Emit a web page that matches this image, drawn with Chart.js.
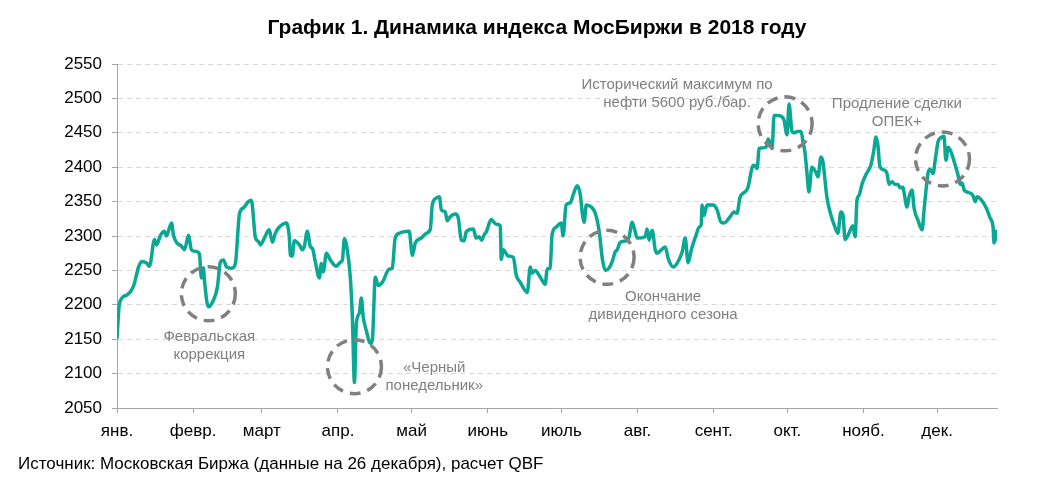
<!DOCTYPE html>
<html lang="ru">
<head>
<meta charset="utf-8">
<title>График 1. Динамика индекса МосБиржи в 2018 году</title>
<script src="https://cdn.jsdelivr.net/npm/chart.js@4.4.1/dist/chart.umd.min.js"></script>
<style>
  html, body { margin: 0; padding: 0; background: #fff; }
  #wrap { position: relative; width: 1052px; height: 488px; }
</style>
</head>
<body>
<div id="wrap"><canvas id="chart"></canvas></div>
<script>
/* global Chart */

// Month ticks (day of year, 1 Jan = 0)
const monthLabels = ['янв.', 'февр.', 'март', 'апр.', 'май', 'июнь', 'июль', 'авг.', 'сент.', 'окт.', 'нояб.', 'дек.'];
const monthStarts = [0, 31, 59, 90, 120, 151, 181, 212, 243, 273, 304, 334];

// MOEX index: day of year / index value
const days = [
    0, 1.0, 3.9, 6.7, 8.8, 10.0, 12.0, 13.2, 15.3, 16.1, 17.7, 19.3, 20.1, 22.2, 23.0, 24.2, 26.3, 27.5, 29.1, 30.3,
    32.8, 33.6, 34.4, 35.2, 35.6, 37.2, 39.3, 40.9, 42.1, 43.4, 44.6, 46.6, 48.2, 49.9, 51.5, 53.5, 54.7, 56.4, 57.6, 58.4,
    60.0, 62.0, 63.3, 64.5, 66.1, 69.0, 70.2, 70.6, 71.4, 72.2, 74.3, 75.5, 76.3, 77.5, 78.8, 79.6, 80.8, 82.4, 83.2, 84.0, 85.3, 86.9, 89.3,
    91.0, 91.8, 92.6, 93.4, 95.1, 95.9, 96.7, 97.5, 98.7, 99.5, 100.3, 101.5, 103.2, 104.0, 105.2, 106.4, 108.1, 110.9, 112.1, 113.3, 115.0, 116.6, 119.0,
    120.3, 121.5, 123.9, 126.0, 127.6, 128.4, 130.0, 131.3, 132.1, 133.7, 134.5, 135.7, 137.8, 139.0, 140.2, 141.4, 142.2, 145.1, 146.3, 147.5, 148.4, 149.6, 150.4,
    152.4, 154.5, 156.1, 156.5, 157.3, 159.3, 161.4, 162.6, 164.2, 167.1, 168.3, 169.1, 170.3, 172.4, 174.4, 175.2, 176.4, 177.2, 178.9, 180.9,
    181.7, 182.9, 184.6, 185.8, 187.4, 188.7, 189.5, 190.3, 191.1, 193.2, 194.8, 196.4, 197.7, 198.9, 200.5, 201.7, 202.9, 203.7, 205.0, 207.4, 208.6, 209.8, 210.7, 211.9,
    215.1, 215.9, 216.7, 217.6, 218.0, 219.2, 220.0, 222.0, 223.3, 224.5, 226.5, 228.2, 230.2, 231.4, 232.6, 233.9, 235.9, 237.1, 237.9, 238.3, 239.1, 240.3, 242.8,
    244.4, 246.0, 247.3, 249.7, 251.3, 252.5, 253.8, 255.8, 257.0, 258.7, 259.5, 260.7, 261.5, 262.3, 264.3, 265.2, 266.0, 266.8, 267.6, 269.2, 270.9, 271.7, 272.9,
    273.7, 274.9, 275.7, 277.3, 278.6, 279.4, 280.2, 281.0, 281.8, 283.0, 284.7, 285.5, 286.7, 287.5, 289.1, 290.4, 292.4, 293.6, 294.8, 295.7, 296.5, 297.7, 299.7, 300.6,
    301.4, 302.2, 303.4, 305.0, 307.1, 308.3, 309.1, 309.9, 310.7, 312.4, 313.6, 314.4, 315.6, 316.9, 318.1, 318.9, 320.1, 320.5, 321.8, 322.6, 323.8, 324.6, 326.2, 327.9, 328.7, 329.5, 330.3, 331.1, 332.4, 333.2,
    334.4, 335.6, 336.8, 337.6, 338.5, 339.7, 341.7, 342.5, 343.4, 344.2, 345.0, 346.2, 348.6, 349.5, 350.3, 351.9, 354.0, 355.6, 356.8, 357.2, 358.4
];
const indexValues = [
    2151, 2202, 2214, 2227, 2255, 2263, 2261, 2256, 2295, 2287, 2301, 2307, 2300, 2319, 2301, 2291, 2285, 2280, 2301, 2280,
    2277, 2273, 2239, 2254, 2236, 2197, 2207, 2226, 2262, 2265, 2255, 2253, 2260, 2333, 2341, 2350, 2352, 2297, 2292, 2287,
    2297, 2309, 2291, 2304, 2313, 2319, 2297, 2272, 2271, 2293, 2287, 2280, 2285, 2307, 2284, 2282, 2262, 2239, 2260, 2248, 2275, 2265, 2256,
    2262, 2265, 2296, 2288, 2236, 2178, 2087, 2173, 2188, 2210, 2182, 2163, 2144, 2149, 2240, 2228, 2233, 2252, 2253, 2297, 2304, 2306, 2307,
    2272, 2290, 2297, 2304, 2310, 2345, 2355, 2357, 2338, 2335, 2322, 2328, 2332, 2326, 2294, 2293, 2306, 2310, 2297, 2299, 2294, 2302, 2306,
    2324, 2317, 2315, 2266, 2280, 2271, 2269, 2243, 2233, 2218, 2255, 2246, 2250, 2240, 2230, 2252, 2253, 2302, 2313, 2319,
    2300, 2345, 2348, 2360, 2373, 2360, 2333, 2320, 2345, 2342, 2333, 2306, 2266, 2250, 2254, 2263, 2277, 2280, 2291, 2293, 2299, 2320, 2311, 2297,
    2299, 2310, 2294, 2306, 2308, 2280, 2275, 2281, 2284, 2267, 2255, 2261, 2277, 2297, 2261, 2280, 2302, 2313, 2316, 2345, 2330, 2345, 2345,
    2338, 2320, 2319, 2328, 2335, 2333, 2357, 2364, 2371, 2400, 2403, 2398, 2427, 2428, 2429, 2441, 2435, 2427, 2475, 2475, 2473, 2468, 2447,
    2492, 2452, 2450, 2452, 2452, 2437, 2421, 2392, 2364, 2400, 2392, 2386, 2415, 2408, 2357, 2335, 2313, 2304, 2335, 2330, 2295, 2301, 2315, 2299,
    2353, 2359, 2375, 2389, 2404, 2426, 2444, 2432, 2401, 2396, 2391, 2375, 2379, 2375, 2375, 2370, 2371, 2364, 2342, 2357, 2367, 2341, 2323, 2309, 2338, 2367, 2391, 2397, 2391, 2410,
    2437, 2443, 2445, 2410, 2429, 2422, 2399, 2389, 2375, 2377, 2367, 2364, 2359, 2350, 2357, 2353, 2341, 2326, 2313, 2290, 2309
];

const titleText = 'График 1. Динамика индекса МосБиржи в 2018 году';
const sourceText = 'Источник: Московская Биржа (данные на 26 декабря), расчет QBF';

const FONT = '"Liberation Sans", Arial, Helvetica, sans-serif';

// dashed circles and captions, anchored in data coordinates
const noteCircles = [
    { day: 37.2, value: 2216 },
    { day: 96.7, value: 2110 },
    { day: 199.6, value: 2269 },
    { day: 272.1, value: 2463 },
    { day: 336.2, value: 2412 }
];
const noteTexts = [
    { day: 37.6, value: 2153, lines: ['Февральская', 'коррекция'] },
    { day: 129.2, value: 2108, lines: ['«Черный', 'понедельник»'] },
    { day: 222.4, value: 2212, lines: ['Окончание', 'дивидендного сезона'] },
    { day: 228.1, value: 2519, lines: ['Исторический максимум по', 'нефти 5600 руб./бар.'] },
    { day: 317.6, value: 2492, lines: ['Продление сделки', 'ОПЕК+'] }
];

const notesPlugin = {
    id: 'notes',
    afterDatasetsDraw(chart) {
        const { ctx } = chart;
        const x = chart.scales.x;
        const y = chart.scales.y;
        ctx.save();
        ctx.strokeStyle = '#808080';
        ctx.lineWidth = 3.5;
        ctx.setLineDash([11, 7]);
        noteCircles.forEach(c => {
            ctx.beginPath();
            ctx.arc(x.getPixelForValue(c.day), y.getPixelForValue(c.value), 27, 0, Math.PI * 2);
            ctx.stroke();
        });
        ctx.setLineDash([]);
        ctx.fillStyle = '#7f7f7f';
        ctx.font = '15px ' + FONT;
        ctx.textAlign = 'center';
        ctx.textBaseline = 'middle';
        noteTexts.forEach(n => {
            const px = x.getPixelForValue(n.day);
            const py = y.getPixelForValue(n.value);
            n.lines.forEach((line, i) => ctx.fillText(line, px, py + i * 18));
        });
        ctx.restore();
    },
    afterDraw(chart) {
        const { ctx } = chart;
        ctx.save();
        ctx.fillStyle = '#000';
        ctx.textBaseline = 'middle';
        ctx.textAlign = 'center';
        ctx.font = 'bold 21px ' + FONT;
        ctx.fillText(titleText, 537, 28);
        ctx.textAlign = 'left';
        ctx.font = '17px ' + FONT;
        ctx.fillText(sourceText, 18, 464);
        ctx.restore();
    }
};

new Chart(document.getElementById('chart'), {
    type: 'line',
    data: {
        datasets: [{
            label: 'Индекс МосБиржи',
            data: days.map((d, i) => ({ x: d, y: indexValues[i] })),
            borderColor: '#0aa894',
            borderWidth: 3.5,
            pointRadius: 0,
            cubicInterpolationMode: 'monotone',
            fill: false
        }]
    },
    options: {
        responsive: true,
        maintainAspectRatio: false,
        animation: false,
        layout: { padding: { top: 64, right: 55, bottom: 0, left: 0 } },
        plugins: {
            legend: { display: false },
            tooltip: { enabled: false },
            title: { display: false }
        },
        scales: {
            x: {
                type: 'linear',
                min: 0,
                max: days[days.length - 1],
                afterBuildTicks: (scale) => {
                    scale.ticks = monthStarts.map(v => ({ value: v }));
                },
                afterFit: (scale) => { scale.height = 80; },
                ticks: {
                    autoSkip: false,
                    maxRotation: 0,
                    padding: 8,
                    color: '#000',
                    font: { family: FONT, size: 17 },
                    callback: (value, i) => monthLabels[i]
                },
                grid: {
                    drawOnChartArea: false,
                    tickLength: 5,
                    tickColor: '#a6a6a6'
                },
                border: { color: '#a6a6a6', width: 1 }
            },
            y: {
                min: 2050,
                max: 2550,
                afterFit: (scale) => { scale.width = 117; },
                ticks: {
                    stepSize: 50,
                    padding: 10,
                    color: '#000',
                    font: { family: FONT, size: 17 },
                    callback: (value) => String(value)
                },
                grid: {
                    color: '#d9d9d9',
                    tickLength: 5,
                    tickColor: '#a6a6a6',
                    tickBorderDash: [1, 0]
                },
                border: { color: '#a6a6a6', width: 1, dash: [5, 4] }
            }
        }
    },
    plugins: [notesPlugin]
});
</script>
</body>
</html>
